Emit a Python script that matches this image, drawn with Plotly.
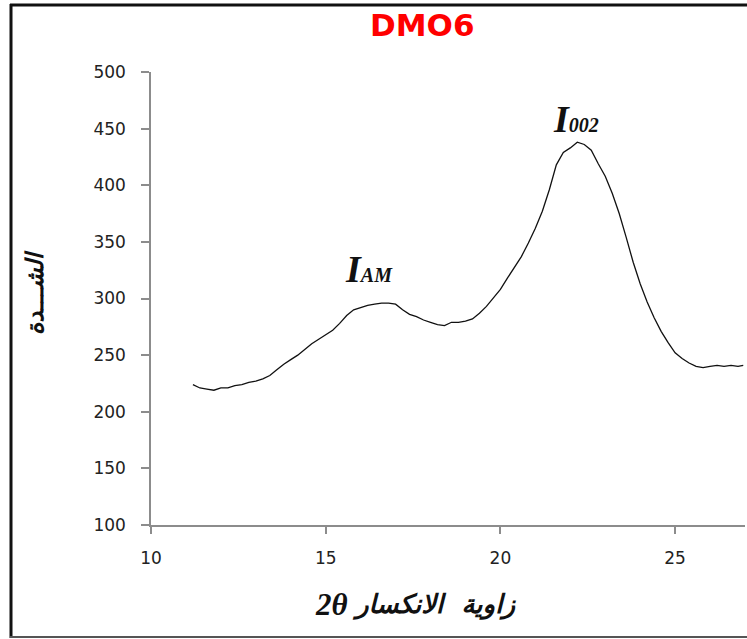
import plotly.graph_objects as go

# XRD scan of sample DMO6: diffraction angle 2θ (deg) vs intensity
two_theta = [11.2, 11.4, 11.6, 11.8, 12.0, 12.2, 12.4, 12.6, 12.8, 13.0,
             13.2, 13.4, 13.6, 13.8, 14.0, 14.2, 14.4, 14.6, 14.8, 15.0,
             15.2, 15.4, 15.6, 15.8, 16.0, 16.2, 16.4, 16.6, 16.8, 17.0,
             17.2, 17.4, 17.6, 17.8, 18.0, 18.2, 18.4, 18.6, 18.8, 19.0,
             19.2, 19.4, 19.6, 19.8, 20.0, 20.2, 20.4, 20.6, 20.8, 21.0,
             21.2, 21.4, 21.6, 21.8, 22.0, 22.2, 22.4, 22.6, 22.8, 23.0,
             23.2, 23.4, 23.6, 23.8, 24.0, 24.2, 24.4, 24.6, 24.8, 25.0,
             25.2, 25.4, 25.6, 25.8, 26.0, 26.2, 26.4, 26.6, 26.8, 26.95]
intensity = [224, 221, 220, 219, 221, 221, 223, 224, 226, 227,
             229, 232, 237, 242, 246, 250, 255, 260, 264, 268,
             272, 278, 285, 290, 292, 294, 295, 296, 296, 295,
             290, 286, 284, 281, 279, 277, 276, 279, 279, 280,
             282, 287, 293, 300, 308, 318, 327, 337, 349, 362,
             377, 396, 418, 429, 433, 438, 436, 431, 419, 408,
             393, 375, 354, 332, 313, 297, 283, 271, 261, 252,
             247, 243, 240, 239, 240, 241, 240, 241, 240, 241]

x_ticks = [10, 15, 20, 25]
y_ticks = [100, 150, 200, 250, 300, 350, 400, 450, 500]

# peak labels: (x, y, main symbol, subscript)
peak_labels = [(15.5, 306, "I", "AM"), (21.45, 438, "I", "002")]

W, H = 747, 639
L, R, T, B = 151, 2, 72, 114
pw, ph = W - L - R, H - T - B


def px_x(px):
    return (px - L) / pw


def px_y(py):
    return (H - B - py) / ph


fig = go.Figure()
fig.add_trace(go.Scatter(
    x=two_theta, y=intensity, mode="lines",
    line=dict(color="#111111", width=1.3),
    showlegend=False, hoverinfo="skip",
))

axis_common = dict(
    showgrid=False, zeroline=False, showline=True,
    linecolor="#8c8c8c", linewidth=1.5,
    ticks="outside", tickcolor="#8c8c8c", tickwidth=1.5,
    tickfont=dict(family="DejaVu Sans", size=17, color="#222222"),
)

fig.update_xaxes(range=[10, 27], tickvals=x_ticks, ticklen=7,
                 ticklabelstandoff=10, **axis_common)
fig.update_yaxes(range=[100, 500], tickvals=y_ticks, ticklen=8,
                 ticklabelstandoff=12, **axis_common)

annotations = []
for x, y, main, sub in peak_labels:
    annotations.append(dict(
        x=x, y=y, xref="x", yref="y", xanchor="left", yanchor="bottom",
        showarrow=False,
        text=(f"<b><i>{main}</i></b>"
              f"<span style='font-size:20px'><b><i>{sub}</i></b></span>"),
        font=dict(family="Liberation Serif", size=38, color="#111111"),
    ))

# y axis title
annotations.append(dict(
    x=px_x(35), y=px_y(293), xref="paper", yref="paper",
    xanchor="center", yanchor="middle", showarrow=False, textangle=-90,
    text="<b><i>الشـــدة</i></b>",
    font=dict(family="DejaVu Sans", size=24, color="#111111"),
))
# x axis title: symbol part and Arabic part
annotations.append(dict(
    x=px_x(350), y=px_y(604), xref="paper", yref="paper",
    xanchor="right", yanchor="middle", showarrow=False,
    text="<b><i>2θ</i></b>",
    font=dict(family="Liberation Serif", size=31, color="#111111"),
))
annotations.append(dict(
    x=px_x(350), y=px_y(604), xref="paper", yref="paper",
    xanchor="left", yanchor="middle", showarrow=False,
    text="<b><i>زاوية  الانكسار</i></b>",
    font=dict(family="DejaVu Sans", size=26, color="#111111"),
))
# chart title
annotations.append(dict(
    x=px_x(422), y=px_y(25), xref="paper", yref="paper",
    xanchor="center", yanchor="middle", showarrow=False,
    text="<b>DMO6</b>",
    font=dict(family="DejaVu Sans", size=31, color="#ff0000"),
))

# outer frame (top, left, bottom edges)
shapes = [
    dict(type="line", xref="paper", yref="paper",
         x0=px_x(10), x1=px_x(760), y0=px_y(5), y1=px_y(5),
         line=dict(color="#111111", width=3)),
    dict(type="line", xref="paper", yref="paper",
         x0=px_x(11), x1=px_x(11), y0=px_y(4), y1=px_y(638),
         line=dict(color="#111111", width=3)),
    dict(type="line", xref="paper", yref="paper",
         x0=px_x(10), x1=px_x(760), y0=px_y(637), y1=px_y(637),
         line=dict(color="#555555", width=2)),
]

fig.update_layout(
    width=W, height=H,
    margin=dict(l=L, r=R, t=T, b=B),
    paper_bgcolor="white", plot_bgcolor="white",
    annotations=annotations, shapes=shapes,
    showlegend=False,
)

fig.write_html("out.html")
